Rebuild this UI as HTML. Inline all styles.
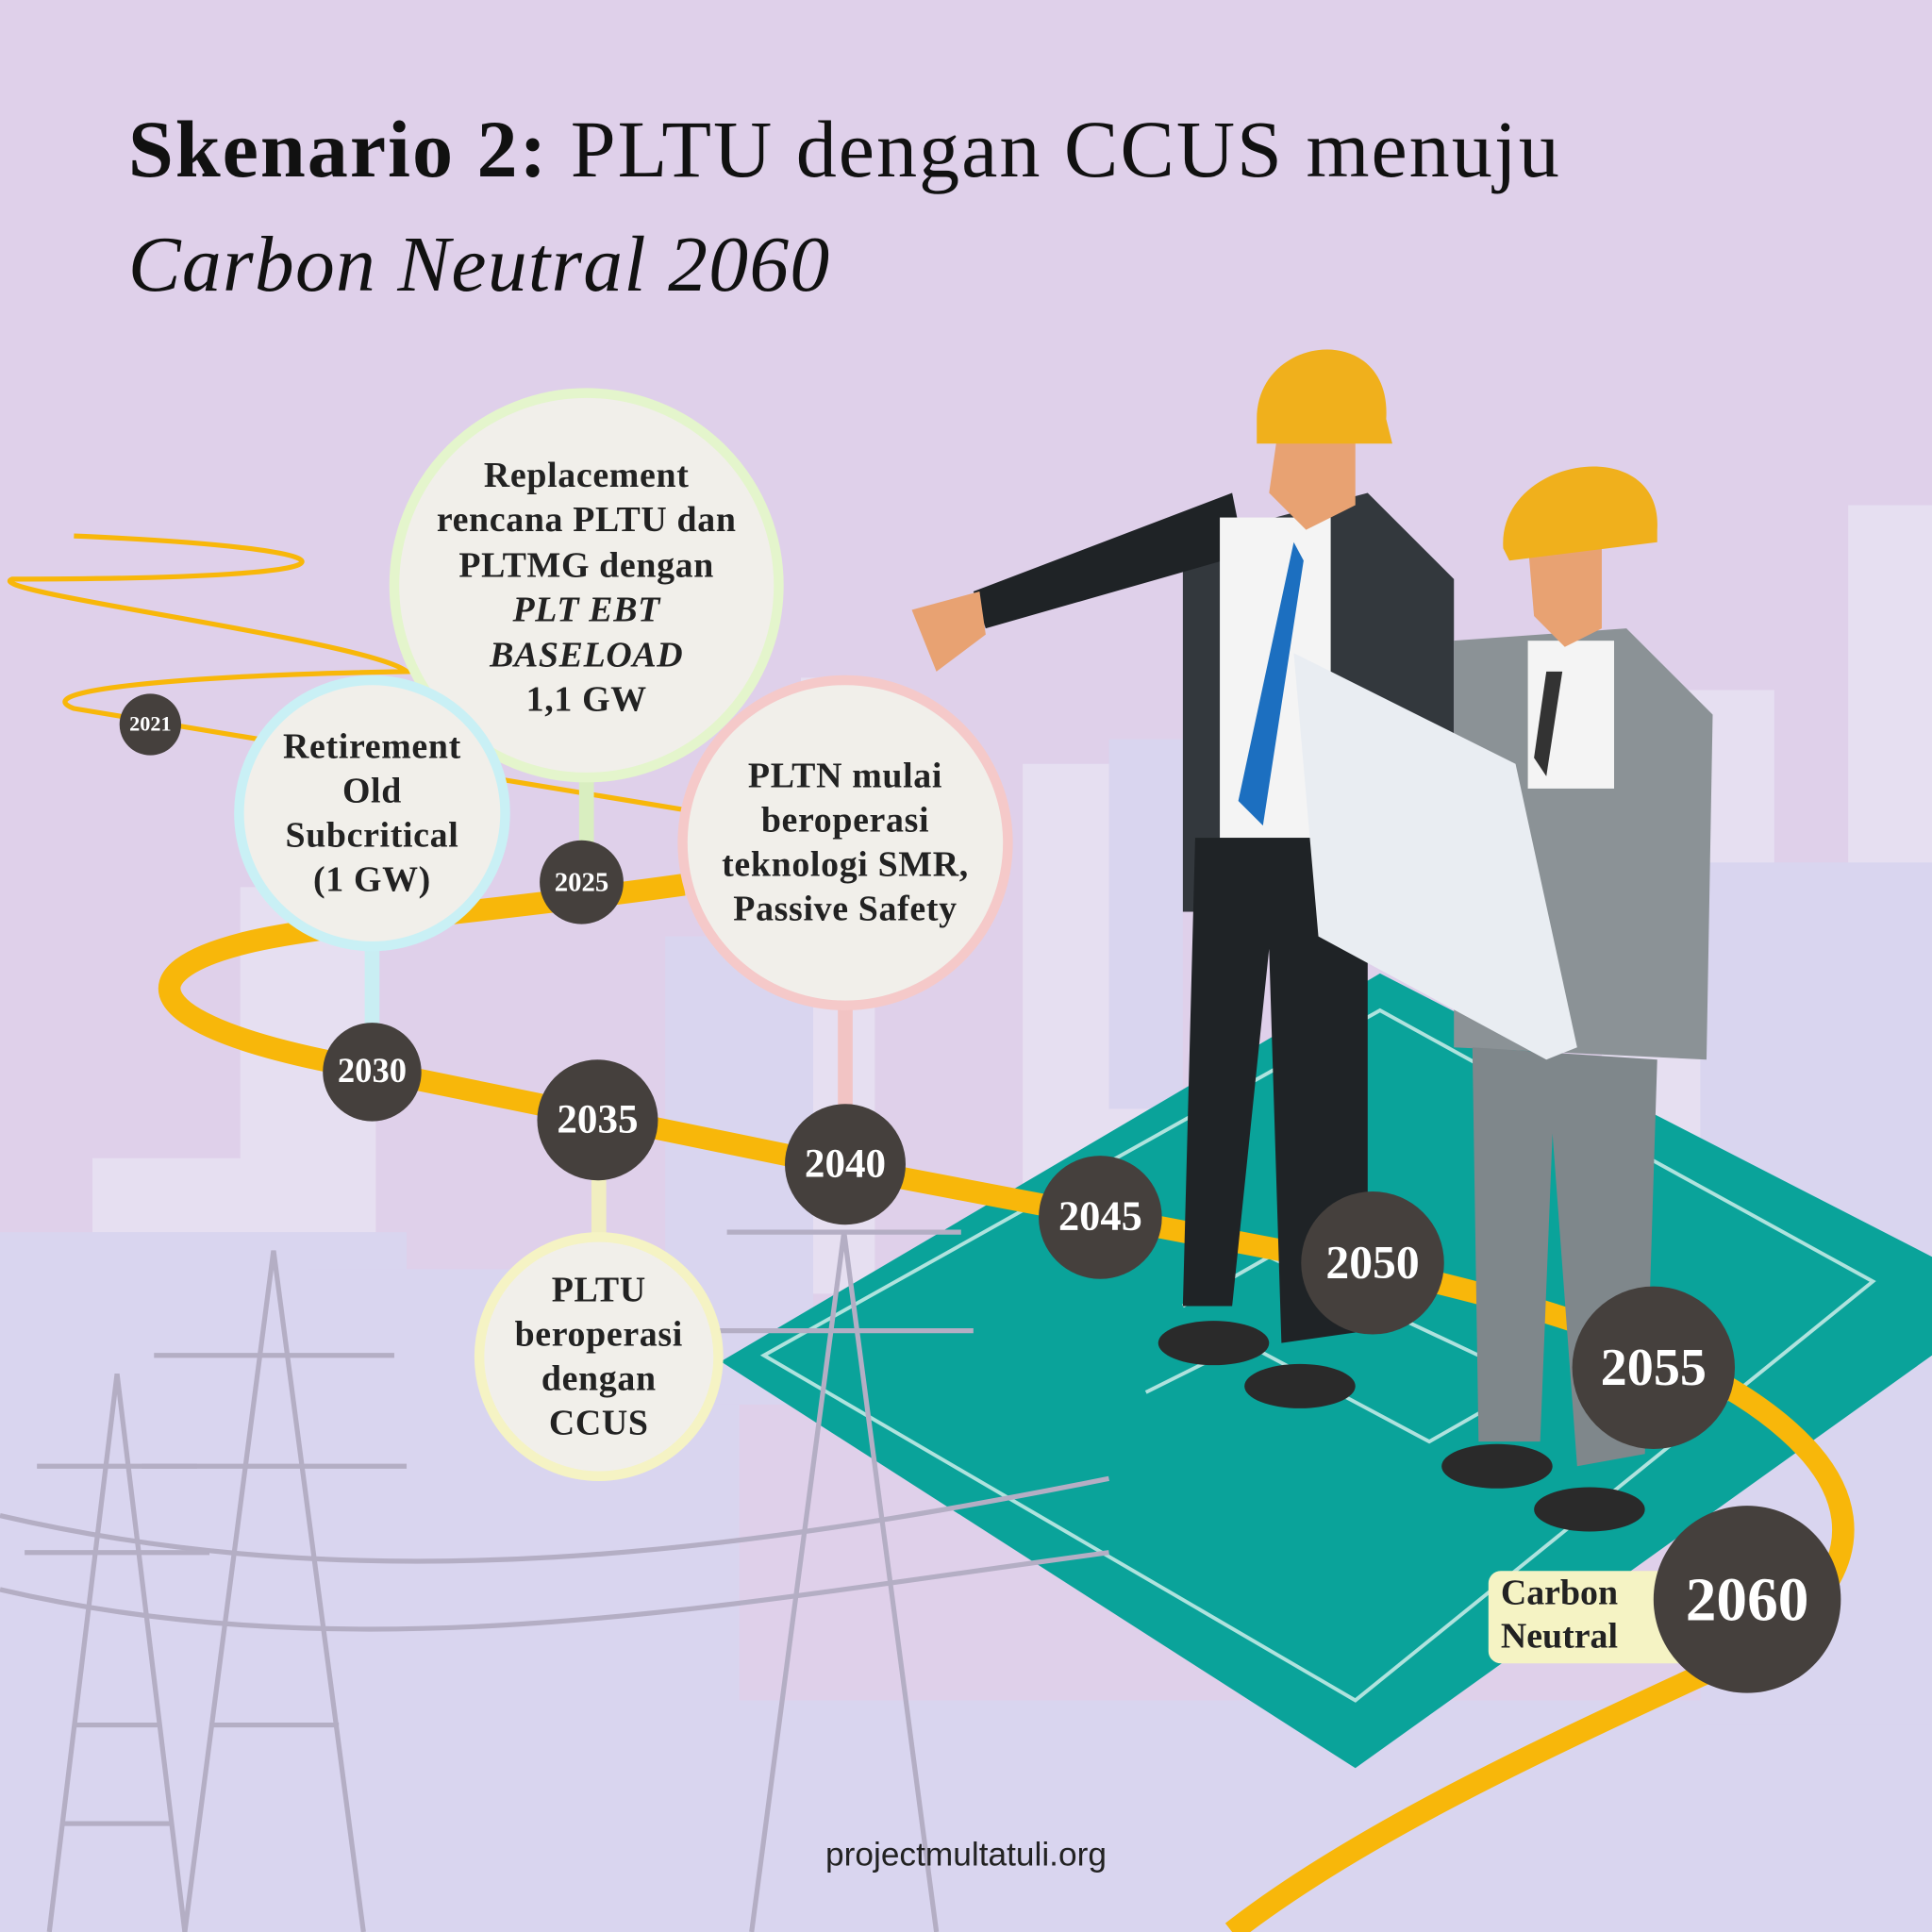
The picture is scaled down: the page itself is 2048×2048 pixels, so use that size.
<!DOCTYPE html>
<html><head><meta charset="utf-8">
<style>
html,body{margin:0;padding:0;width:2048px;height:2048px;overflow:hidden;background:#dfd0ea;}
#s{position:absolute;left:0;top:0;width:1568px;height:1568px;transform:scale(1.30612);transform-origin:0 0;}
.t{position:absolute;font-family:"Liberation Serif",serif;color:#111;}
.c{position:absolute;border-radius:50%;background:#f1efea;display:flex;align-items:center;justify-content:center;text-align:center;font-family:"Liberation Serif",serif;font-weight:bold;color:#222;box-sizing:border-box;letter-spacing:0.5px;}
.y{position:absolute;border-radius:50%;background:#45403d;color:#fff;font-family:"Liberation Serif",serif;font-weight:bold;display:flex;align-items:center;justify-content:center;}
</style></head><body>
<div id="s">
<svg width="1568" height="1568" style="position:absolute;left:0;top:0">
<g fill="#e6dff1">
<rect x="1500" y="410" width="68" height="700"/>
<rect x="1300" y="560" width="140" height="400"/>
<rect x="830" y="620" width="110" height="500"/>
<rect x="650" y="550" width="60" height="500"/>
<rect x="75" y="940" width="150" height="300"/>
<rect x="195" y="720" width="110" height="400"/>
</g>
<g fill="#d9d5ef">
<rect x="0" y="1000" width="330" height="568"/>
<rect x="250" y="1030" width="350" height="538"/>
<rect x="0" y="1380" width="1568" height="188"/>
<rect x="1380" y="700" width="188" height="700"/>
<rect x="540" y="760" width="120" height="380"/>
<rect x="900" y="600" width="60" height="300"/>
</g>
<polygon points="585,1105 1120,790 1568,1020 1568,1100 1100,1435" fill="#0aa39a"/>
<g stroke="#d8f2ef" stroke-width="3" fill="none" opacity="0.8">
<polygon points="620,1100 1120,820 1520,1040 1100,1380"/>
<polyline points="930,1130 1010,1090 1160,1170 1230,1130"/>
<polyline points="960,1060 1030,1020 1200,1100"/>
</g>
<g stroke="#b4aec4" stroke-width="4" fill="none">
<path d="M40,1568 L95,1115 L150,1568 M60,1400 L130,1400 M50,1480 L140,1480 M20,1260 L170,1260 M30,1190 L160,1190"/>
<path d="M150,1568 L222,1015 L295,1568 M125,1100 L320,1100 M115,1190 L330,1190 M170,1400 L275,1400"/>
<path d="M610,1568 L685,1000 L760,1568 M590,1000 L780,1000 M580,1080 L790,1080"/>
<path d="M0,1230 C300,1300 600,1260 900,1200 M0,1290 C300,1360 600,1300 900,1260"/>
</g>
<path d="M60,435 C300,445 330,470 10,470 C-20,480 300,520 330,545 C150,548 20,560 60,575 L560,658" stroke="#f8b70a" stroke-width="4" fill="none"/>
<path d="M555,718 C400,740 260,750 200,765 C100,790 120,830 260,860 L700,950 L1120,1030 C1250,1060 1400,1100 1470,1180 C1530,1250 1480,1320 1380,1360 C1250,1420 1100,1490 1000,1568" stroke="#f8b70a" stroke-width="18" fill="none"/>
<g stroke-width="12">
<line x1="476" y1="630" x2="476" y2="690" stroke="#d9eec0"/>
<line x1="302" y1="765" x2="302" y2="835" stroke="#c9eef3"/>
<line x1="686" y1="815" x2="686" y2="900" stroke="#f2c4c4"/>
<line x1="486" y1="955" x2="486" y2="1005" stroke="#f1eec0"/>
</g>
<g>
<path d="M960,440 L1110,400 L1180,470 L1180,740 L960,740 Z" fill="#33383d"/>
<path d="M790,480 L1000,400 L1010,450 L800,510 Z" fill="#1f2326"/>
<path d="M740,495 L795,480 L800,515 L760,545 Z" fill="#e8a272"/>
<rect x="990" y="420" width="90" height="260" fill="#f4f4f4"/>
<polygon points="1050,440 1058,455 1025,670 1005,650" fill="#1c6fc0"/>
<path d="M970,680 L1110,680 L1110,1080 L1040,1090 L1030,770 L1000,1060 L960,1060 Z" fill="#1f2326"/>
<ellipse cx="985" cy="1090" rx="45" ry="18" fill="#2a2a2a"/>
<ellipse cx="1055" cy="1125" rx="45" ry="18" fill="#2a2a2a"/>
<path d="M1040,330 L1100,340 L1100,410 L1060,430 L1030,400 Z" fill="#e8a272"/>
<path d="M1020,340 C1020,270 1130,260 1125,340 L1130,360 L1020,360 Z" fill="#f0b01c"/>
</g>
<g>
<path d="M1180,520 L1320,510 L1390,580 L1385,860 L1180,850 Z" fill="#8b9296"/>
<rect x="1240" y="520" width="70" height="120" fill="#f4f4f4"/>
<polygon points="1255,545 1268,545 1255,630 1245,615" fill="#333"/>
<path d="M1195,850 L1345,860 L1335,1180 L1280,1190 L1260,920 L1250,1170 L1200,1170 Z" fill="#7f878b"/>
<ellipse cx="1215" cy="1190" rx="45" ry="18" fill="#2a2a2a"/>
<ellipse cx="1290" cy="1225" rx="45" ry="18" fill="#2a2a2a"/>
<path d="M1050,530 L1230,620 L1280,850 L1255,860 L1070,760 Z" fill="#e9edf2"/>
<path d="M1240,440 L1300,445 L1300,510 L1270,525 L1245,500 Z" fill="#e8a272"/>
<path d="M1220,445 C1215,370 1350,350 1345,430 L1345,440 L1225,455 Z" fill="#f0b01c"/>
</g>
</svg>

<div class="t" style="left:104px;top:84px;font-size:66px;letter-spacing:1.5px;white-space:nowrap;"><b>Skenario 2:</b> PLTU dengan CCUS menuju</div>
<div class="t" style="left:104px;top:178px;font-size:64px;letter-spacing:1px;font-style:italic;white-space:nowrap;">Carbon Neutral 2060</div>

<div class="c" style="left:316px;top:315px;width:320px;height:320px;border:8px solid #e4f5cc;font-size:29px;line-height:36.5px;"><div style="margin-top:4px">Replacement<br>rencana PLTU dan<br>PLTMG dengan<br><i>PLT EBT</i><br><i>BASELOAD</i><br>1,1 GW</div></div>
<div class="c" style="left:190px;top:548px;width:224px;height:224px;border:8px solid #c9f0f5;font-size:29px;line-height:36px;"><div>Retirement<br>Old<br>Subcritical<br>(1 GW)</div></div>
<div class="c" style="left:550px;top:548px;width:272px;height:272px;border:8px solid #f5c9c9;font-size:29px;line-height:36px;"><div>PLTN mulai<br>beroperasi<br>teknologi SMR,<br>Passive Safety</div></div>
<div class="c" style="left:385px;top:1000px;width:202px;height:202px;border:8px solid #f5f3c4;font-size:29px;line-height:36px;"><div>PLTU<br>beroperasi<br>dengan<br>CCUS</div></div>

<div style="position:absolute;left:1208px;top:1275px;width:180px;height:75px;background:#f5f3c4;border-radius:10px;"></div>
<div class="t" style="left:1218px;top:1276px;font-size:29px;font-weight:bold;line-height:35px;text-align:center;color:#222;">Carbon<br>Neutral</div>

<div class="y" style="left:97px;top:563px;width:50px;height:50px;font-size:17px;">2021</div>
<div class="y" style="left:438px;top:682px;width:68px;height:68px;font-size:22px;">2025</div>
<div class="y" style="left:262px;top:830px;width:80px;height:80px;font-size:28px;">2030</div>
<div class="y" style="left:436px;top:860px;width:98px;height:98px;font-size:33px;">2035</div>
<div class="y" style="left:637px;top:896px;width:98px;height:98px;font-size:33px;">2040</div>
<div class="y" style="left:843px;top:938px;width:100px;height:100px;font-size:34px;">2045</div>
<div class="y" style="left:1056px;top:967px;width:116px;height:116px;font-size:38px;">2050</div>
<div class="y" style="left:1276px;top:1044px;width:132px;height:132px;font-size:43px;">2055</div>
<div class="y" style="left:1342px;top:1222px;width:152px;height:152px;font-size:50px;">2060</div>

<div style="position:absolute;left:0;width:1568px;top:1490px;text-align:center;font-family:'Liberation Sans',sans-serif;font-size:27px;color:#222;">projectmultatuli.org</div>
</div>
</body></html>
